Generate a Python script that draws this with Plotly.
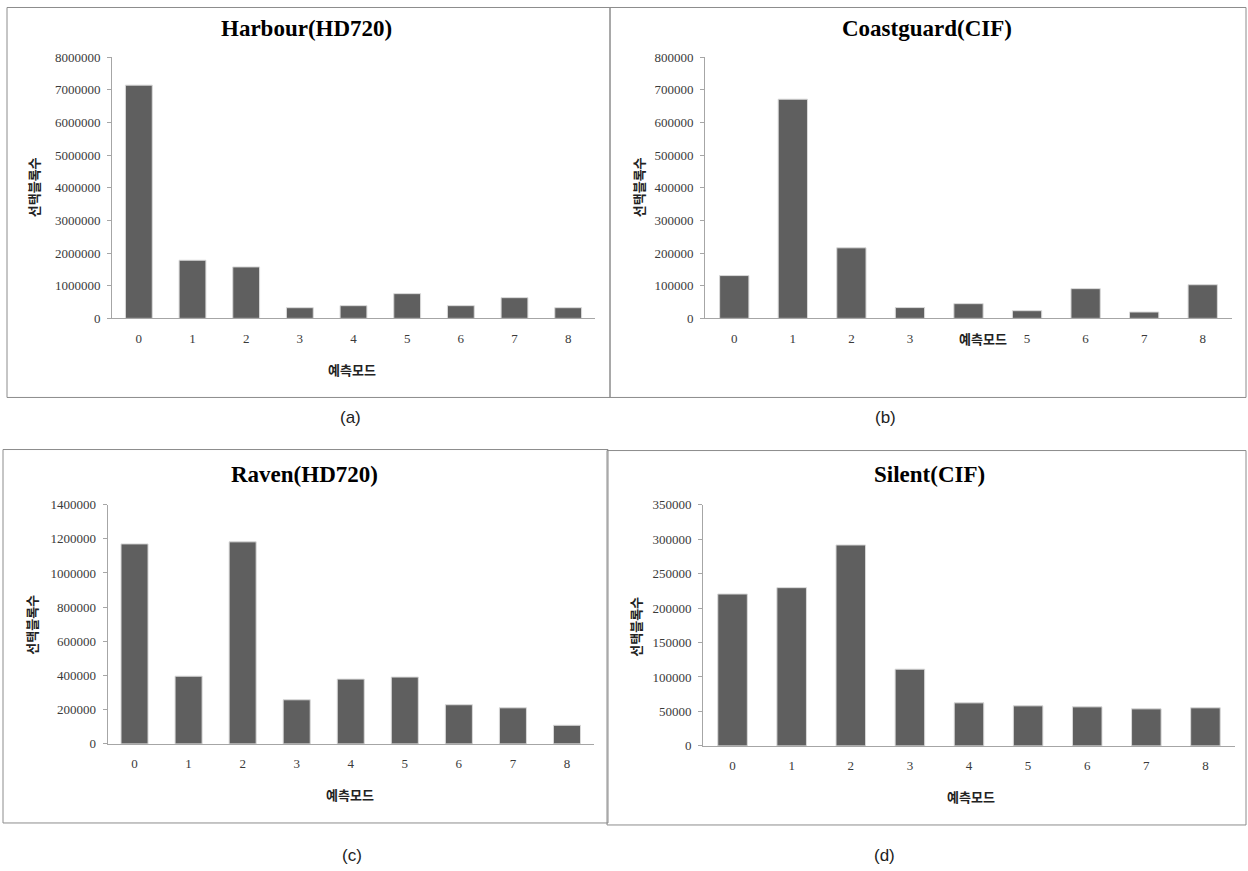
import plotly.graph_objects as go

W, H = 1248, 871

modes = ["0", "1", "2", "3", "4", "5", "6", "7", "8"]
coast_tick_labels = ["0", "1", "2", "3", "", "5", "6", "7", "8"]

harbour = [7140000, 1780000, 1575000, 327000, 389000, 757000, 389000, 634000, 327000]
coastguard = [131000, 671000, 216000, 33000, 45000, 23500, 91000, 19500, 103000]
raven = [1170000, 396000, 1182000, 258000, 379000, 391000, 229000, 211000, 109000]
silent = [220300, 229500, 291400, 111300, 62400, 58100, 56600, 53700, 55200]

titles = ["Harbour(HD720)", "Coastguard(CIF)", "Raven(HD720)", "Silent(CIF)"]
captions = ["(a)", "(b)", "(c)", "(d)"]
x_title = "예측모드"
y_title = "선택블록수"

y_max = [8000000, 800000, 1400000, 350000]
y_dtick = [1000000, 100000, 200000, 50000]

# the captured page shows the figure at y' = 8 + 0.9816*y; place items so they land where the reference has them
Y_OFF, Y_SCALE = 8.0, 0.9816

def px(x):
    return x / W

def py(y):
    fy = (y - Y_OFF) / Y_SCALE
    fy = min(max(fy, 0.5), H - 0.5)
    return 1 - fy / H

areas = [(112, 595, 58, 319), (705, 1232, 58, 319), (107.5, 594, 505, 744), (703, 1235, 505, 746)]
title_pos = [(306, 29), (927, 29), (304, 475), (929, 475)]
xt_pos = [(352, 370), (983, 339), (350, 795), (971, 797)]
yt_pos = [(33, 188), (638, 188), (32, 625), (636, 627)]
cap_pos = [(350, 418), (885, 418), (352, 855), (884, 855)]
boxes = [(7, 4, 610, 398), (610, 4, 1246, 398), (3, 450, 608, 823), (607, 451, 1246, 825)]

series = [harbour, coastguard, raven, silent]
ticklabels = [modes, coast_tick_labels, modes, modes]

fig = go.Figure()
annotations = []
shapes = []
tick_font = dict(family="Liberation Serif", size=13, color="#3a3a3a")

for i in range(4):
    n = "" if i == 0 else str(i + 1)
    fig.add_trace(go.Bar(
        x=modes, y=series[i], xaxis="x" + n, yaxis="y" + n,
        marker=dict(color="#5f5f5f", line=dict(color="#d9d9d9", width=1)),
        showlegend=False, hoverinfo="x+y",
    ))
    l, r, t, b = areas[i]
    fig.layout["xaxis" + n] = dict(
        domain=[px(l), px(r)], anchor="y" + n, type="category",
        range=[-0.5, 8.5], tickvals=modes, ticktext=ticklabels[i],
        showline=True, linecolor="#a6a6a6", linewidth=1,
        ticks="", showgrid=False, zeroline=False,
        tickfont=tick_font, ticklabelstandoff=8,
    )
    fig.layout["yaxis" + n] = dict(
        domain=[py(b), py(t)], anchor="x" + n,
        range=[0, y_max[i]], dtick=y_dtick[i], tick0=0,
        showline=True, linecolor="#a6a6a6", linewidth=1,
        ticks="outside", ticklen=4, tickcolor="#a6a6a6",
        showgrid=False, zeroline=False, tickformat="d",
        tickfont=tick_font, ticklabelstandoff=4,
    )
    annotations.append(dict(
        text="<b>%s</b>" % titles[i], x=px(title_pos[i][0]), y=py(title_pos[i][1]),
        xref="paper", yref="paper", showarrow=False, xanchor="center", yanchor="middle",
        font=dict(family="Liberation Serif", size=23, color="#000000"),
    ))
    annotations.append(dict(
        text="<b>%s</b>" % x_title, x=px(xt_pos[i][0]), y=py(xt_pos[i][1]),
        xref="paper", yref="paper", showarrow=False, xanchor="center", yanchor="middle",
        font=dict(family="Noto Sans CJK KR", size=13, color="#222222"),
    ))
    annotations.append(dict(
        text="<b>%s</b>" % y_title, x=px(yt_pos[i][0]), y=py(yt_pos[i][1]),
        xref="paper", yref="paper", showarrow=False, xanchor="center", yanchor="middle",
        textangle=-90,
        font=dict(family="Noto Sans CJK KR", size=13, color="#222222"),
    ))
    annotations.append(dict(
        text=captions[i], x=px(cap_pos[i][0]), y=py(cap_pos[i][1]),
        xref="paper", yref="paper", showarrow=False, xanchor="center", yanchor="middle",
        font=dict(family="Liberation Sans", size=17, color="#222222"),
    ))
    x0, y0, x1, y1 = boxes[i]
    shapes.append(dict(
        type="rect", xref="paper", yref="paper",
        x0=px(x0), x1=px(x1), y0=py(y1), y1=py(y0),
        line=dict(color="#8c8c8c", width=1), fillcolor="rgba(0,0,0,0)", layer="below",
    ))

fig.update_layout(
    width=W, height=H, margin=dict(l=0, r=0, t=0, b=0),
    paper_bgcolor="white", plot_bgcolor="white",
    bargap=0.5, annotations=annotations, shapes=shapes,
)

fig.write_html("out.html")
